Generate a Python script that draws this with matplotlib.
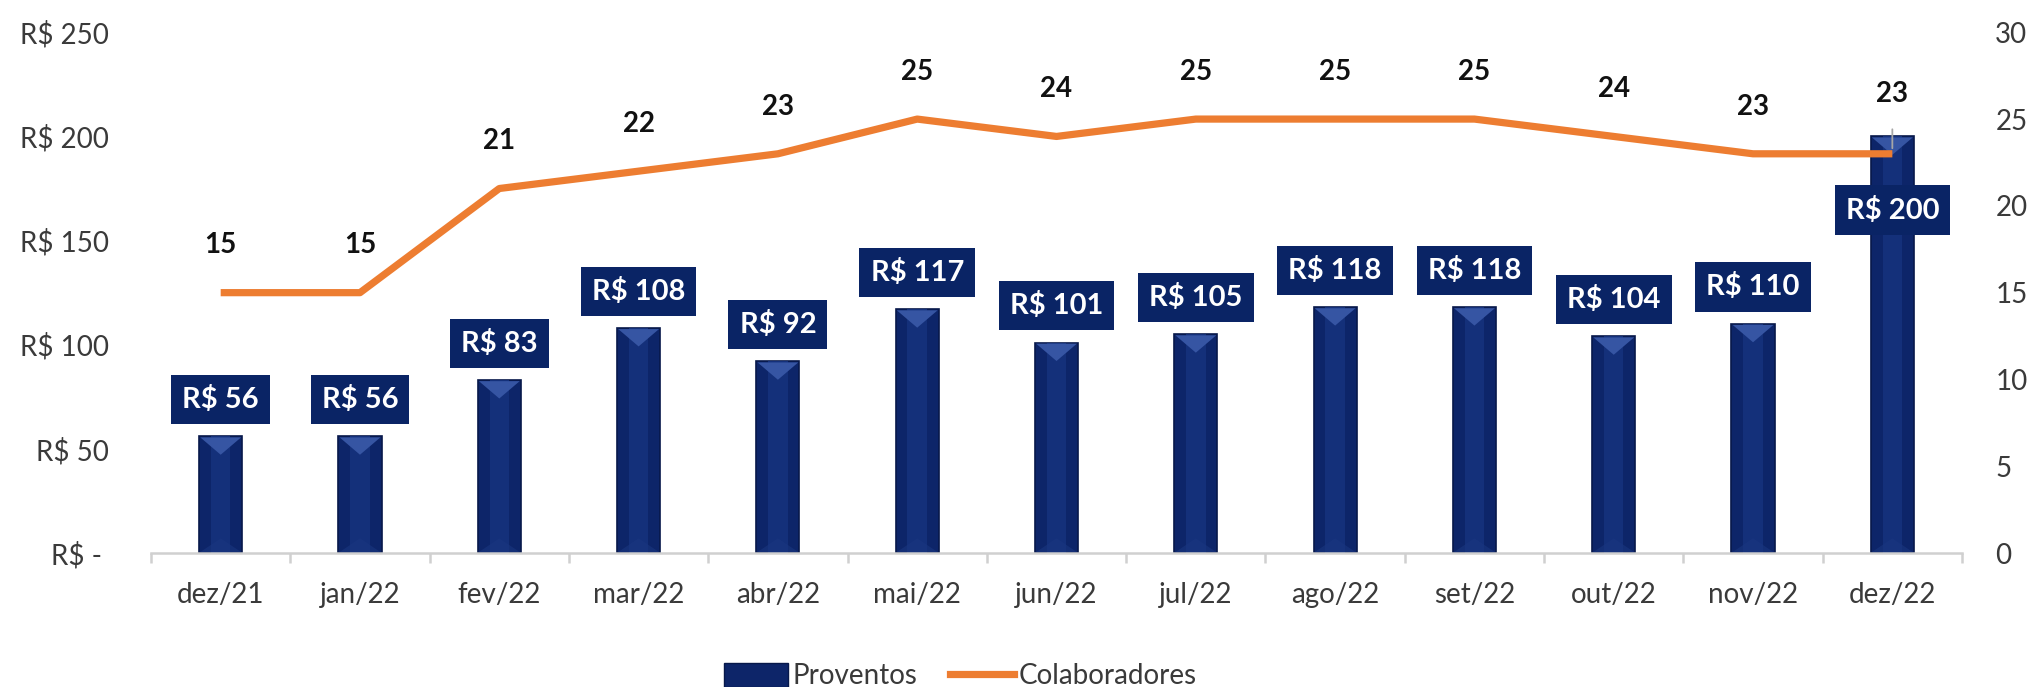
import matplotlib
matplotlib.use("Agg")
import matplotlib.pyplot as plt
from matplotlib.patches import Polygon
from matplotlib.lines import Line2D
from matplotlib.patches import Rectangle

plt.rcParams['font.family'] = ['Lato', 'DejaVu Sans']

categories = ["dez/21", "jan/22", "fev/22", "mar/22", "abr/22", "mai/22", "jun/22",
              "jul/22", "ago/22", "set/22", "out/22", "nov/22", "dez/22"]
proventos = [56, 56, 83, 108, 92, 117, 101, 105, 118, 118, 104, 110, 200]
colaboradores = [15, 15, 21, 22, 23, 25, 24, 25, 25, 25, 24, 23, 23]
left_ticks = [0, 50, 100, 150, 200, 250]
left_ticklabels = ["R$ - ", "R$ 50", "R$ 100", "R$ 150", "R$ 200", "R$ 250"]
right_ticks = [0, 5, 10, 15, 20, 25, 30]
label_inside = [False] * 12 + [True]

NAVY = '#0D2569'
BOX = '#0A2465'
ORANGE = '#ED7D31'
TXT = '#3A3A3A'

fig = plt.figure(figsize=(20.3, 6.87), dpi=100)
ax = fig.add_axes([0.0744, 0.195, 0.8921, 0.758])
ax2 = ax.twinx()
ax.set_zorder(ax2.get_zorder() + 1)
ax.patch.set_visible(False)

x = list(range(len(categories)))
bw = 0.31
ax.set_xlim(-0.5, len(categories) - 0.5)
ax.set_ylim(0, 250)
ax2.set_ylim(0, 30)

bars = ax.bar(x, proventos, width=bw, color=NAVY, edgecolor='#07184A', linewidth=1.2, zorder=2)

# bevel decoration
fig.canvas.draw()
h_px = ax.get_window_extent().height
w_px = ax.get_window_extent().width
dpp_y = 250 / h_px
dpp_x = (len(categories)) / w_px
for xi, v in zip(x, proventos):
    # center stripe
    ax.bar(xi, v, width=bw * 0.45, color='#14307A', linewidth=0, zorder=2.1)
    half = bw / 2 - 1.2 * dpp_x
    depth = (bw / 2) / dpp_x * 0.85 * dpp_y
    tri = Polygon([(xi - half, v - 1.0 * dpp_y), (xi + half, v - 1.0 * dpp_y), (xi, v - depth)],
                  closed=True, facecolor='#3655A3', edgecolor='none', zorder=2.2)
    ax.add_patch(tri)
    tri2 = Polygon([(xi - half, 1.0 * dpp_y), (xi + half, 1.0 * dpp_y), (xi, depth * 0.8)],
                   closed=True, facecolor='#1A3680', edgecolor='none', zorder=2.2, alpha=0.6)
    ax.add_patch(tri2)

# bar labels
for xi, v, inside in zip(x, proventos, label_inside):
    off = -53 if inside else 26.6
    ax.annotate(f"R$ {v}", xy=(xi, v), xytext=(0, off), textcoords='offset points',
                ha='center', va='center', color='white', fontsize=21, fontweight='bold',
                bbox=dict(boxstyle='square,pad=0.38', facecolor=BOX, edgecolor='none'),
                zorder=5)

# line
ax2.plot(x, colaboradores, color=ORANGE, linewidth=5.2, solid_capstyle='butt', zorder=3)
ax2.set_zorder(ax.get_zorder() + 1)
ax2.patch.set_visible(False)
for i, (xi, v) in enumerate(zip(x, colaboradores)):
    if i == len(x) - 1:
        ax2.annotate(str(v), xy=(xi, v), xytext=(0, 43), textcoords='offset points',
                     ha='center', va='center', fontsize=20, fontweight='bold', color='#111111',
                     arrowprops=dict(arrowstyle='-', color='#A6A6A6', lw=1.3,
                                     shrinkA=14, shrinkB=4), zorder=6)
    else:
        ax2.annotate(str(v), xy=(xi, v), xytext=(0, 34), textcoords='offset points',
                     ha='center', va='center', fontsize=20, fontweight='bold', color='#111111',
                     zorder=6)

# axes styling
ax.set_yticks(left_ticks)
ax.set_yticklabels(left_ticklabels)
ax2.set_yticks(right_ticks)
ax2.set_yticklabels([str(t) for t in right_ticks])
ax.set_xticks(x)
ax.set_xticklabels(categories)
ax.set_xticks([i - 0.5 for i in range(len(categories) + 1)], minor=True)

for a in (ax, ax2):
    for s in ('top', 'right', 'left'):
        a.spines[s].set_visible(False)
ax2.spines['bottom'].set_visible(False)
ax.spines['bottom'].set_color('#D0D0D0')
ax.spines['bottom'].set_linewidth(1.8)

ax.tick_params(axis='y', length=0, pad=30, labelsize=20, labelcolor=TXT)
ax2.tick_params(axis='y', length=0, pad=24, labelsize=20, labelcolor=TXT)
ax.tick_params(axis='x', which='major', length=0, pad=21, labelsize=20, labelcolor=TXT)
ax.tick_params(axis='x', which='minor', length=7, width=1.8, color='#D0D0D0')

# legend
handles = [Rectangle((0, 0), 1, 1, facecolor=NAVY, edgecolor='#07184A'),
           Line2D([0], [0], color=ORANGE, linewidth=5.2)]
fig.legend(handles, ["Proventos", "Colaboradores"], loc='center',
           bbox_to_anchor=(0.473, 0.016), bbox_transform=fig.transFigure,
           ncol=2, frameon=False, fontsize=20, handlelength=2.3, handleheight=1.0,
           handletextpad=0.15, columnspacing=1.2, labelcolor=TXT)

fig.savefig("out.png", dpi=100)
